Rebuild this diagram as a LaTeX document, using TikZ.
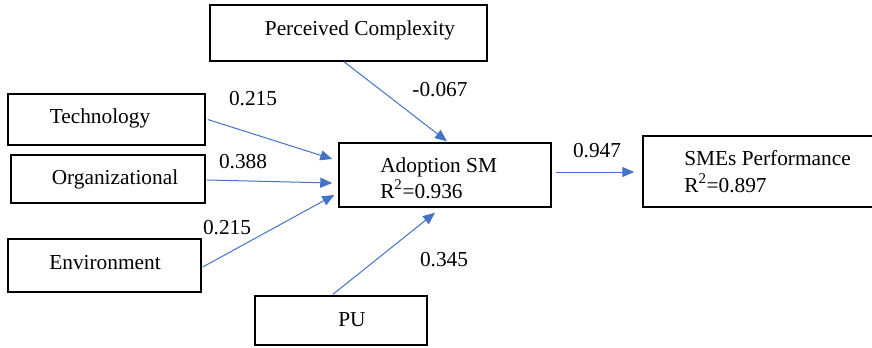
\documentclass[tikz,border=0pt]{standalone}
\usepackage{fontspec}
\setmainfont{Liberation Serif}
\usetikzlibrary{arrows.meta,calc}
\definecolor{arrowblue}{HTML}{4472C4}
\begin{document}
\begin{tikzpicture}[x=0.75pt,y=-0.75pt,
  box/.style={draw=black,line width=1.1pt,rectangle,inner sep=0pt},
  txt/.style={font=\fontsize{16}{19}\selectfont,inner sep=0pt,anchor=base},
  ltxt/.style={txt,anchor=base west},
  conn/.style={draw=arrowblue,line width=0.75pt,-{Triangle[length=9pt,width=7.5pt]}}]
\useasboundingbox (0,0) rectangle (872,347);
% boxes
\node[box,minimum width=207.75pt,minimum height=42pt] (pc) at (348.5,33) {};
\node[box,minimum width=147.75pt,minimum height=38.25pt] (tech) at (106.5,119.5) {};
\node[box,minimum width=145.5pt,minimum height=36pt] (org) at (108,179) {};
\node[box,minimum width=144.75pt,minimum height=39.75pt] (env) at (104.5,265.5) {};
\node[box,minimum width=129pt,minimum height=36.75pt] (pu) at (341,320.5) {};
\node[box,minimum width=159pt,minimum height=48pt] (adopt) at (445,175) {};
\node[box,minimum width=176.25pt,minimum height=53.25pt] (smes) at (760.5,171.5) {};
% box texts
\node[txt] (pct) at (360,35) {Perceived Complexity};
\node[txt] (techt) at (100,123) {Technology};
\node[txt] (orgt) at (115,184) {Organizational};
\node[txt] (envt) at (105,269) {Environment};
\node[txt] (put) at (352,326) {PU};
\node[ltxt] (adt1) at (380,172) {Adoption SM};
\node[ltxt] (adt2) at (380,198) {R\textsuperscript{2}=0.936};
\node[ltxt] (smt1) at (684,165) {SMEs Performance};
\node[ltxt] (smt2) at (684,192) {R\textsuperscript{2}=0.897};
% connectors
\draw[conn] ($(pc.south)+(-4.5,0)$) -- ($(adopt.north)+(2,-1)$);
\draw[conn] ($(tech.east)+(2,0)$) -- ($(adopt.west)+(-6,-16)$);
\draw[conn] ($(org.east)+(1,1)$) -- ($(adopt.west)+(-6,8)$);
\draw[conn] ($(env.east)+(1,1.5)$) -- ($(adopt.west)+(-4,20)$);
\draw[conn] ($(pu.north)+(-8,-1)$) -- ($(adopt.south)+(-10,5)$);
\draw[conn] ($(adopt.east)+(4,-3)$) -- ($(smes.west)+(-8,0.5)$);
% labels
\node[txt] (lpc) at (440,96) {-0.067};
\node[txt] (ltech) at (253,105) {0.215};
\node[txt] (lorg) at (243,168) {0.388};
\node[txt] (lenv) at (227,234) {0.215};
\node[txt] (lpu) at (444,266) {0.345};
\node[txt] (lsme) at (597,157) {0.947};
\end{tikzpicture}
\end{document}
